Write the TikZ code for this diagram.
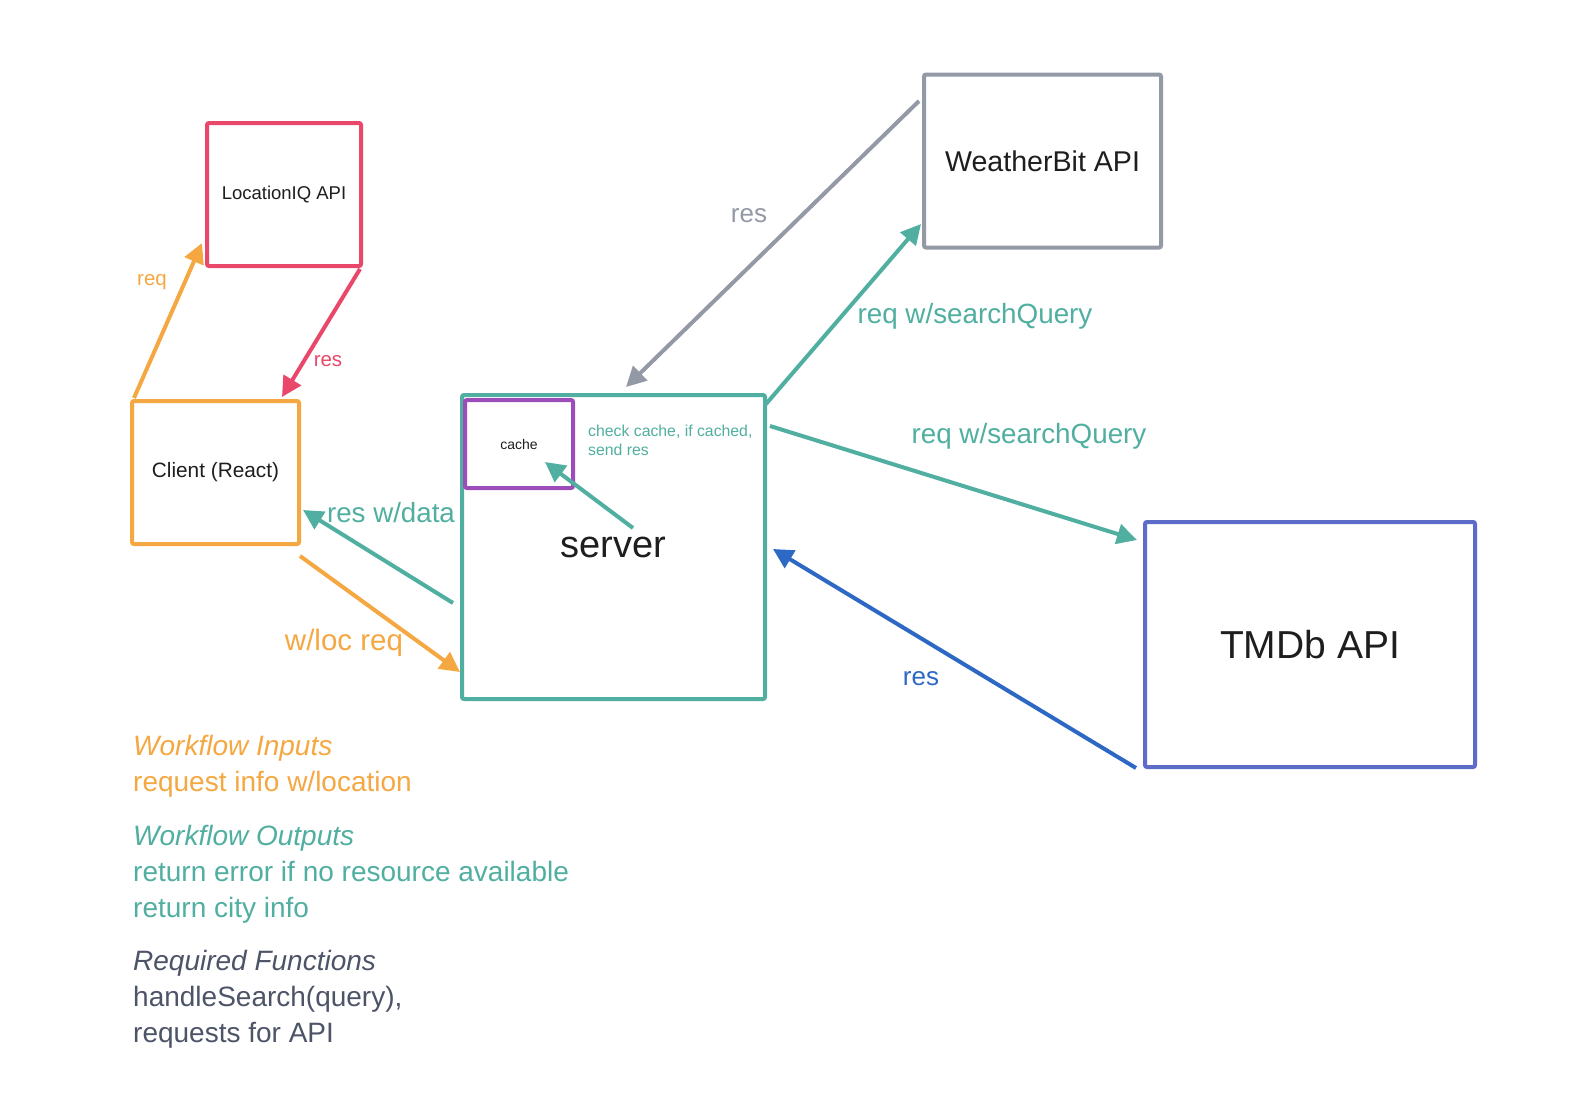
\documentclass[tikz,border=0pt]{standalone}
\usepackage{fontspec}
\setmainfont{Liberation Sans}
\usetikzlibrary{arrows.meta}
\definecolor{orangeC}{RGB}{245,168,66}
\definecolor{redC}{RGB}{234,72,106}
\definecolor{tealC}{RGB}{80,175,160}
\definecolor{greyC}{RGB}{148,153,166}
\definecolor{blueC}{RGB}{44,104,196}
\definecolor{tmdbC}{RGB}{92,108,200}
\definecolor{purpleC}{RGB}{156,77,186}
\definecolor{textC}{RGB}{30,30,30}
\definecolor{fnC}{RGB}{78,84,104}
\newcommand{\fs}[1]{\fontsize{#1}{#1}\selectfont}
\tikzset{
  box/.style={draw, line width=4pt, rounded corners=2pt, inner sep=0pt, text=textC},
  conn/.style={line width=4pt, -{Triangle[length=20pt,width=20pt]}},
  lbl/.style={inner sep=0pt},
  txt/.style={inner sep=0pt, anchor=base west},
}
\begin{document}
\begin{tikzpicture}[x=1pt,y=-1pt]
\useasboundingbox[fill=white] (0,0) rectangle (1584,1092);

% boxes
\node[box, draw=redC, minimum width=154pt, minimum height=143pt, font=\fs{18.5}] (loc) at (284,194.5) {LocationIQ API};
\node[box, draw=orangeC, minimum width=167pt, minimum height=143pt, font=\fs{20.8}] (client) at (215.5,472.5) {Client (React)};
\node[box, draw=tealC, minimum width=303pt, minimum height=304pt, font=\fs{38}] (server) at (613.5,547) {server};
\node[box, draw=purpleC, minimum width=108pt, minimum height=88pt, font=\fs{14}] (cache) at (519,444) {cache};
\node[box, draw=greyC, minimum width=237pt, minimum height=173pt, font=\fs{28.6}] (wb) at (1042.5,161) {WeatherBit API};
\node[box, draw=tmdbC, minimum width=330pt, minimum height=245pt, font=\fs{39}] (tmdb) at (1310,644.5) {TMDb API};

% connector end points
\coordinate (reqS) at (134,398);   \coordinate (reqE) at (202,243);
\coordinate (resS) at (360,269);   \coordinate (resE) at (282,397);
\coordinate (gS) at (919,101);     \coordinate (gE) at (626,387);
\coordinate (wS) at (766,404);     \coordinate (wE) at (921,224);
\coordinate (tS) at (770,426);     \coordinate (tE) at (1137,540);
\coordinate (bS) at (1136,768);    \coordinate (bE) at (773,549);
\coordinate (dS) at (453,603);     \coordinate (dE) at (303,510);
\coordinate (lS) at (300,556);     \coordinate (lE) at (460,672);
\coordinate (cS) at (633,528);     \coordinate (cE) at (545,462);

% connectors
\draw[conn, orangeC] (reqS) -- (reqE);
\draw[conn, redC] (resS) -- (resE);
\draw[conn, greyC] (gS) -- (gE);
\draw[conn, tealC] (wS) -- (wE);
\draw[conn, tealC] (tS) -- (tE);
\draw[conn, blueC] (bS) -- (bE);
\draw[conn, tealC] (dS) -- (dE);
\draw[conn, orangeC] (lS) -- (lE);
\draw[conn, tealC] (cS) -- (cE);

% connector labels
\node[lbl, text=orangeC, font=\fs{20.5}] (l1) at (152,282) {req};
\node[lbl, text=redC, font=\fs{20.5}] (l2) at (328,361) {res};
\node[lbl, text=greyC, font=\fs{26}] (l3) at (749,216) {res};
\node[lbl, text=tealC, font=\fs{27.8}] (l4) at (975,316) {req w/searchQuery};
\node[lbl, text=tealC, font=\fs{27.8}] (l5) at (1029,436) {req w/searchQuery};
\node[lbl, text=blueC, font=\fs{26}] (l6) at (921,679) {res};
\node[lbl, text=tealC, font=\fs{27.7}] (l7) at (391,513) {res w/data};
\node[lbl, text=orangeC, font=\fs{29.5}] (l8) at (344,643) {w/loc req};
\node[txt, text=tealC, font=\fs{15.8}] (l9) at (588,436) {check cache, if cached,};
\node[txt, text=tealC, font=\fs{15.8}] (l10) at (588,455) {send res};

% notes
\node[txt, text=orangeC, font=\fs{28}\itshape] (n1) at (133,755) {Workflow Inputs};
\node[txt, text=orangeC, font=\fs{28}] (n2) at (133,791) {request info w/location};
\node[txt, text=tealC, font=\fs{28}\itshape] (n3) at (133,845) {Workflow Outputs};
\node[txt, text=tealC, font=\fs{28}] (n4) at (133,881) {return error if no resource available};
\node[txt, text=tealC, font=\fs{28}] (n5) at (133,917) {return city info};
\node[txt, text=fnC, font=\fs{28}\itshape] (n6) at (133,970) {Required Functions};
\node[txt, text=fnC, font=\fs{28}] (n7) at (133,1006) {handleSearch(query),};
\node[txt, text=fnC, font=\fs{28}] (n8) at (133,1042) {requests for API};
\end{tikzpicture}
\end{document}
